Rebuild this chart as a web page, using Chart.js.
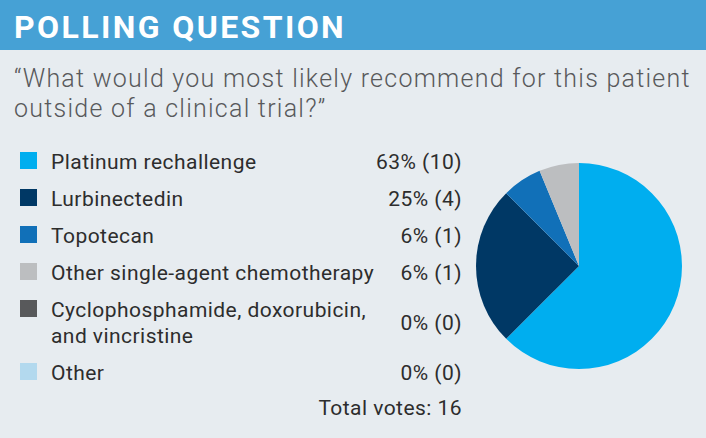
<!DOCTYPE html>
<html>
<head>
<meta charset="utf-8">
<script src="https://cdn.jsdelivr.net/npm/chart.js@4"></script>
<style>
  html, body { margin: 0; padding: 0; }
  body {
    width: 706px; height: 438px; position: relative; overflow: hidden;
    background: #e7ecf0; font-family: Roboto, sans-serif;
  }
  #header {
    position: absolute; left: 0; top: 0; width: 706px; height: 50px;
    background: #46a1d5;
  }
  #header span {
    position: absolute; left: 14px; top: 7px;
    font-size: 32px; font-weight: bold; color: #fff; letter-spacing: 2.4px;
    line-height: 40px;
  }
  #question {
    position: absolute; left: 14px; top: 64px; width: 692px;
    font-size: 25px; line-height: 29.5px; color: #58595b;
    font-weight: 300; letter-spacing: 1.25px; white-space: nowrap;
  }
  .row { position: absolute; left: 0; width: 462px; font-size: 21px; line-height: 26px; color: #2d2d2d; letter-spacing: 0.45px; }
  .row .box { position: absolute; left: 20px; top: 3px; width: 17px; height: 17px; }
  .row .lbl { position: absolute; left: 51px; top: 0; white-space: nowrap; }
  .row .pct { position: absolute; right: 0; white-space: nowrap; }
  #chartBox { position: absolute; left: 476px; top: 163px; width: 206px; height: 206px; }
</style>
</head>
<body>
<div id="header"><span>POLLING QUESTION</span></div>
<div id="question">“What would you most likely recommend for this patient<br>outside of a clinical trial?”</div>
<div id="legend"></div>
<div id="chartBox"><canvas id="pollChart"></canvas></div>
<script>
// poll answers
var answers = [
  "Platinum rechallenge",
  "Lurbinectedin",
  "Topotecan",
  "Other single-agent chemotherapy",
  ["Cyclophosphamide, doxorubicin,", "and vincristine"],
  "Other"
];
var votes = [10, 4, 1, 1, 0, 0];
var percents = [63, 25, 6, 6, 0, 0];
var colors = ["#00aeef", "#003865", "#1170b8", "#bcbec0", "#58595b", "#b3d9ee"];

// builds the legend rows on the left from the chart data
var htmlLegend = {
  id: 'htmlLegend',
  afterUpdate: function(chart) {
    var box = document.getElementById('legend');
    box.innerHTML = '';
    var labels = chart.data.labels;
    var ds = chart.data.datasets[0];
    var top = 149;
    for (var i = 0; i < labels.length; i++) {
      var lines = Array.isArray(labels[i]) ? labels[i] : [labels[i]];
      var row = document.createElement('div');
      row.className = 'row';
      row.style.top = top + 'px';
      row.style.height = (lines.length * 26) + 'px';
      var sq = document.createElement('div');
      sq.className = 'box';
      sq.style.background = ds.backgroundColor[i];
      var lbl = document.createElement('div');
      lbl.className = 'lbl';
      lbl.innerHTML = lines.join('<br>');
      var pct = document.createElement('div');
      pct.className = 'pct';
      pct.style.top = ((lines.length - 1) * 13) + 'px';
      pct.textContent = percents[i] + '% (' + ds.data[i] + ')';
      row.appendChild(sq);
      row.appendChild(lbl);
      row.appendChild(pct);
      box.appendChild(row);
      top += lines.length * 26 + 11;
    }
    var total = document.createElement('div');
    total.className = 'row';
    total.style.top = (top - 2) + 'px';
    var t = document.createElement('div');
    t.className = 'pct';
    t.textContent = 'Total votes: ' + ds.data.reduce(function(a, b) { return a + b; }, 0);
    total.appendChild(t);
    box.appendChild(total);
  }
};

var pollChart = new Chart(document.getElementById('pollChart'), {
  type: 'pie',
  data: {
    labels: answers,
    datasets: [{
      data: votes,
      backgroundColor: colors,
      borderWidth: 0
    }]
  },
  plugins: [htmlLegend],
  options: {
    responsive: true,
    maintainAspectRatio: false,
    animation: false,
    layout: { padding: 0 },
    plugins: {
      legend: { display: false },
      tooltip: { enabled: false }
    }
  }
});
</script>
</body>
</html>
